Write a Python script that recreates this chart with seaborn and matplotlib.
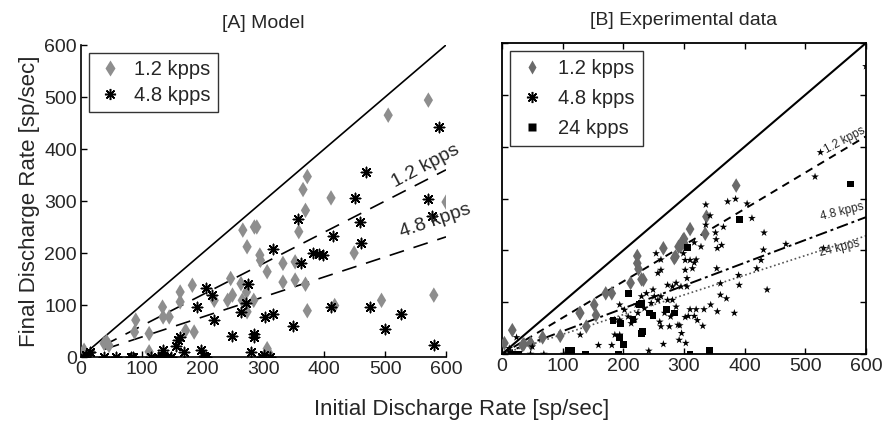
import numpy as np
import pandas as pd
import matplotlib
matplotlib.use("Agg")
import matplotlib.pyplot as plt
from matplotlib.lines import Line2D
import seaborn as sns

# ---------------- [A] Model ----------------
model_12_x = [571, 505, 600, 580, 494, 449, 411, 372, 365, 369, 358, 352, 352, 369, 372, 417,
              332, 332, 306, 294, 295, 289, 285, 266, 273, 263, 246, 249, 241, 265, 272, 273,
              284, 219, 183, 163, 163, 134, 135, 145, 90, 88, 112, 172, 186, 38, 46, 5, 306,
              112, 310, 42]
model_12_y = [494, 465, 298, 119, 109, 200, 306, 347, 322, 282, 241, 183, 148, 140, 89, 99,
              180, 144, 164, 196, 186, 250, 250, 244, 212, 141, 151, 119, 109, 109, 125, 87,
              109, 109, 138, 125, 106, 96, 77, 77, 71, 48, 45, 51, 48, 26, 22, 13, 16,
              10, 5, 30]

model_48_x = [589, 469, 450, 571, 577, 458, 461, 414, 357, 361, 381, 391, 398, 315, 275, 272,
              263, 206, 216, 219, 191, 316, 302, 348, 411, 475, 526, 500, 581, 249, 284, 284,
              162, 160, 156, 170, 134, 197, 202, 279, 301, 298, 14, 3, 38, 57, 82, 85, 115,
              126, 142, 148, 205, 310, 8, 134]
model_48_y = [443, 356, 306, 303, 271, 260, 220, 233, 266, 180, 200, 199, 196, 207, 140, 104,
              87, 132, 119, 72, 96, 82, 76, 60, 96, 96, 82, 53, 24, 40, 45, 39,
              39, 32, 22, 10, 14, 13, 1, 10, 3, 0, 10, 0, 0, 0, 0, 0, 0,
              0, 0, 0, 0, 0, 4, 2]

model_slope_12 = 0.60
model_slope_48 = 0.385

# ---------------- [B] Experimental data ----------------
exp_12_x = [386, 337, 310, 300, 294, 286, 266, 223, 223, 225, 230, 212, 181, 171, 152, 155,
            129, 139, 96, 67, 47, 34, 17, 4, 300, 335, 36, 48, 128, 233, 284, 291, 298]
exp_12_y = [325, 265, 241, 222, 207, 188, 204, 189, 175, 164, 144, 137, 117, 117, 95, 75,
            79, 53, 35, 32, 21, 17, 46, 21, 214, 232, 19, 19, 79, 143, 185, 207, 219]

exp_48_x = [600, 525, 516, 336, 372, 385, 404, 412, 365, 336, 352, 353, 355, 362, 432, 468,
            431, 427, 420, 530, 354, 390, 391, 437, 360, 360, 370, 383, 355, 344, 333, 331,
            322, 317, 320, 310, 307, 302, 293, 296, 303, 305, 302, 317, 302, 310, 299, 317,
            266, 242, 262, 276, 260, 268, 278, 287, 281, 273, 262, 257, 246, 235, 224, 219,
            213, 208, 202, 194, 186, 186, 181, 159, 129, 69, 47, 102, 194, 238, 249, 251,
            257, 262, 273, 281, 287, 295, 305, 262, 254, 230, 222, 194, 24, 12, 50, 320,
            314, 328, 343, 290, 292]
exp_48_y = [555, 389, 342, 288, 294, 299, 290, 262, 245, 249, 234, 221, 204, 210, 234, 212,
            201, 181, 165, 204, 165, 152, 133, 124, 136, 114, 107, 79, 82, 95, 86, 54,
            65, 73, 86, 86, 73, 71, 55, 40, 21, 130, 162, 176, 181, 181, 194, 215,
            19, 6, 53, 53, 62, 79, 72, 91, 104, 104, 111, 104, 98, 88, 79, 66,
            59, 72, 85, 95, 66, 37, 17, 17, 37, 0, 0, 0, 37, 117, 124, 111,
            156, 162, 133, 130, 137, 130, 146, 182, 194, 111, 95, 66, 32, 11, 14, 182,
            165, 207, 267, 56, 27]

exp_24_x = [574, 391, 306, 209, 230, 243, 249, 271, 284, 183, 195, 194, 200, 230, 231, 110,
            114, 137, 192, 310, 342, 15, 27, 216, 227]
exp_24_y = [328, 259, 205, 117, 97, 79, 75, 86, 79, 64, 59, 32, 19, 40, 43, 6,
            6, 0, 0, 0, 6, 0, 0, 66, 95]

exp_slope_12 = 0.70
exp_slope_48 = 0.44
exp_slope_24 = 0.38

ticks = [0, 100, 200, 300, 400, 500, 600]
fit_x = [0, 600]

sns.set_theme(style="ticks")
plt.rcParams["font.family"] = ["Liberation Sans", "DejaVu Sans"]
plt.rcParams["xtick.direction"] = "in"
plt.rcParams["ytick.direction"] = "in"

fig = plt.figure(figsize=(8.83, 4.22), dpi=100)
axA = fig.add_axes([81 / 883, 1 - 357 / 422, 365 / 883, 312 / 422])
axB = fig.add_axes([502 / 883, 1 - 354 / 422, 364 / 883, 311 / 422])

asterisk = (8, 2, 0)
grey_a = "#8e8e8e"
grey_b = "#6a6a6a"


def dashed(ax, slope, pattern, color="black", lw=1.2):
    line_y = [v * slope for v in fit_x]
    sns.lineplot(x=fit_x, y=line_y, color=color, lw=lw, ax=ax)
    ax.lines[-1].set_dashes(pattern)


# ---- panel A ----
sns.lineplot(x=fit_x, y=fit_x, color="black", lw=1.2, ax=axA)
dashed(axA, model_slope_12, [9, 6])
dashed(axA, model_slope_48, [9, 6])
sns.scatterplot(x=model_12_x, y=model_12_y, marker="d", s=62, color=grey_a,
                edgecolor="none", ax=axA, zorder=3)
sns.scatterplot(x=model_48_x, y=model_48_y, marker=asterisk, s=55, color="black",
                linewidth=1.1, ax=axA, zorder=3)
axA.text(567, 368, "1.2 kpps", rotation=28, fontsize=14, ha="center", va="center")
axA.text(583, 262, "4.8 kpps", rotation=19, fontsize=14, ha="center", va="center")
axA.set_xlim(0, 600)
axA.set_ylim(0, 600)
axA.set_xticks(ticks)
axA.set_yticks(ticks)
axA.tick_params(labelsize=14, length=4, width=1, color="black", pad=3)
for side in ["top", "right"]:
    axA.spines[side].set_visible(False)
for side in ["left", "bottom"]:
    axA.spines[side].set_color("black")
    axA.spines[side].set_linewidth(1.2)
axA.set_title("[A] Model", fontsize=14, pad=12)
axA.set_ylabel("Final Discharge Rate [sp/sec]", fontsize=16, labelpad=3)

handlesA = [
    Line2D([], [], ls="none", marker="d", ms=8, color=grey_a, mec="none"),
    Line2D([], [], ls="none", marker=asterisk, ms=8, color="black", mew=1.1),
]
legA = axA.legend(handlesA, ["1.2 kpps", "4.8 kpps"], loc="upper left", frameon=True,
                  fontsize=14.5, fancybox=False, edgecolor="black",
                  handletextpad=0.5, borderpad=0.35, borderaxespad=0.4,
                  handlelength=1.4, labelspacing=0.35)
legA.get_frame().set_linewidth(1.0)

# ---- panel B ----
sns.lineplot(x=fit_x, y=fit_x, color="black", lw=1.5, ax=axB)
dashed(axB, exp_slope_12, [4, 3], lw=1.4)
dashed(axB, exp_slope_48, [6, 2, 1.5, 2], lw=1.4)
dashed(axB, exp_slope_24, [1, 1.6], color="#555555", lw=1.2)
sns.scatterplot(x=exp_12_x, y=exp_12_y, marker="d", s=55, color=grey_b,
                edgecolor="none", ax=axB, zorder=3)
sns.scatterplot(x=exp_48_x, y=exp_48_y, marker="*", s=34, color="black",
                edgecolor="none", ax=axB, zorder=3)
sns.scatterplot(x=exp_24_x, y=exp_24_y, marker="s", s=24, color="black",
                edgecolor="none", ax=axB, zorder=3)
axB.text(565, 412, "1.2 kpps", rotation=28, fontsize=8.5, ha="center", va="center")
axB.text(560, 274, "4.8 kpps", rotation=14, fontsize=8.5, ha="center", va="center")
axB.text(556, 205, "24 kpps", rotation=14, fontsize=8.5, ha="center", va="center")
axB.set_xlim(0, 600)
axB.set_ylim(0, 600)
axB.set_xticks(ticks)
axB.set_yticks(ticks)
axB.tick_params(labelsize=14, length=4, width=1, color="black", pad=3,
                top=True, right=True, labelleft=False)
for side in ["top", "right", "left", "bottom"]:
    axB.spines[side].set_color("black")
    axB.spines[side].set_linewidth(1.3)
axB.set_title("[B] Experimental data", fontsize=14, pad=13)

handlesB = [
    Line2D([], [], ls="none", marker="d", ms=7.5, color=grey_b, mec="none"),
    Line2D([], [], ls="none", marker=asterisk, ms=8, color="black", mew=1.1),
    Line2D([], [], ls="none", marker="s", ms=5.5, color="black", mec="none"),
]
legB = axB.legend(handlesB, ["1.2 kpps", "4.8 kpps", "24 kpps"], loc="upper left",
                  frameon=True, fontsize=14.5, fancybox=False, edgecolor="black",
                  handletextpad=0.6, borderpad=0.4, borderaxespad=0.4,
                  handlelength=1.4, labelspacing=0.55)
legB.get_frame().set_linewidth(1.0)

fig.text(0.523, 0.03, "Initial Discharge Rate [sp/sec]", ha="center", va="center",
         fontsize=16)

fig.savefig("out.png", dpi=100, facecolor="white")
